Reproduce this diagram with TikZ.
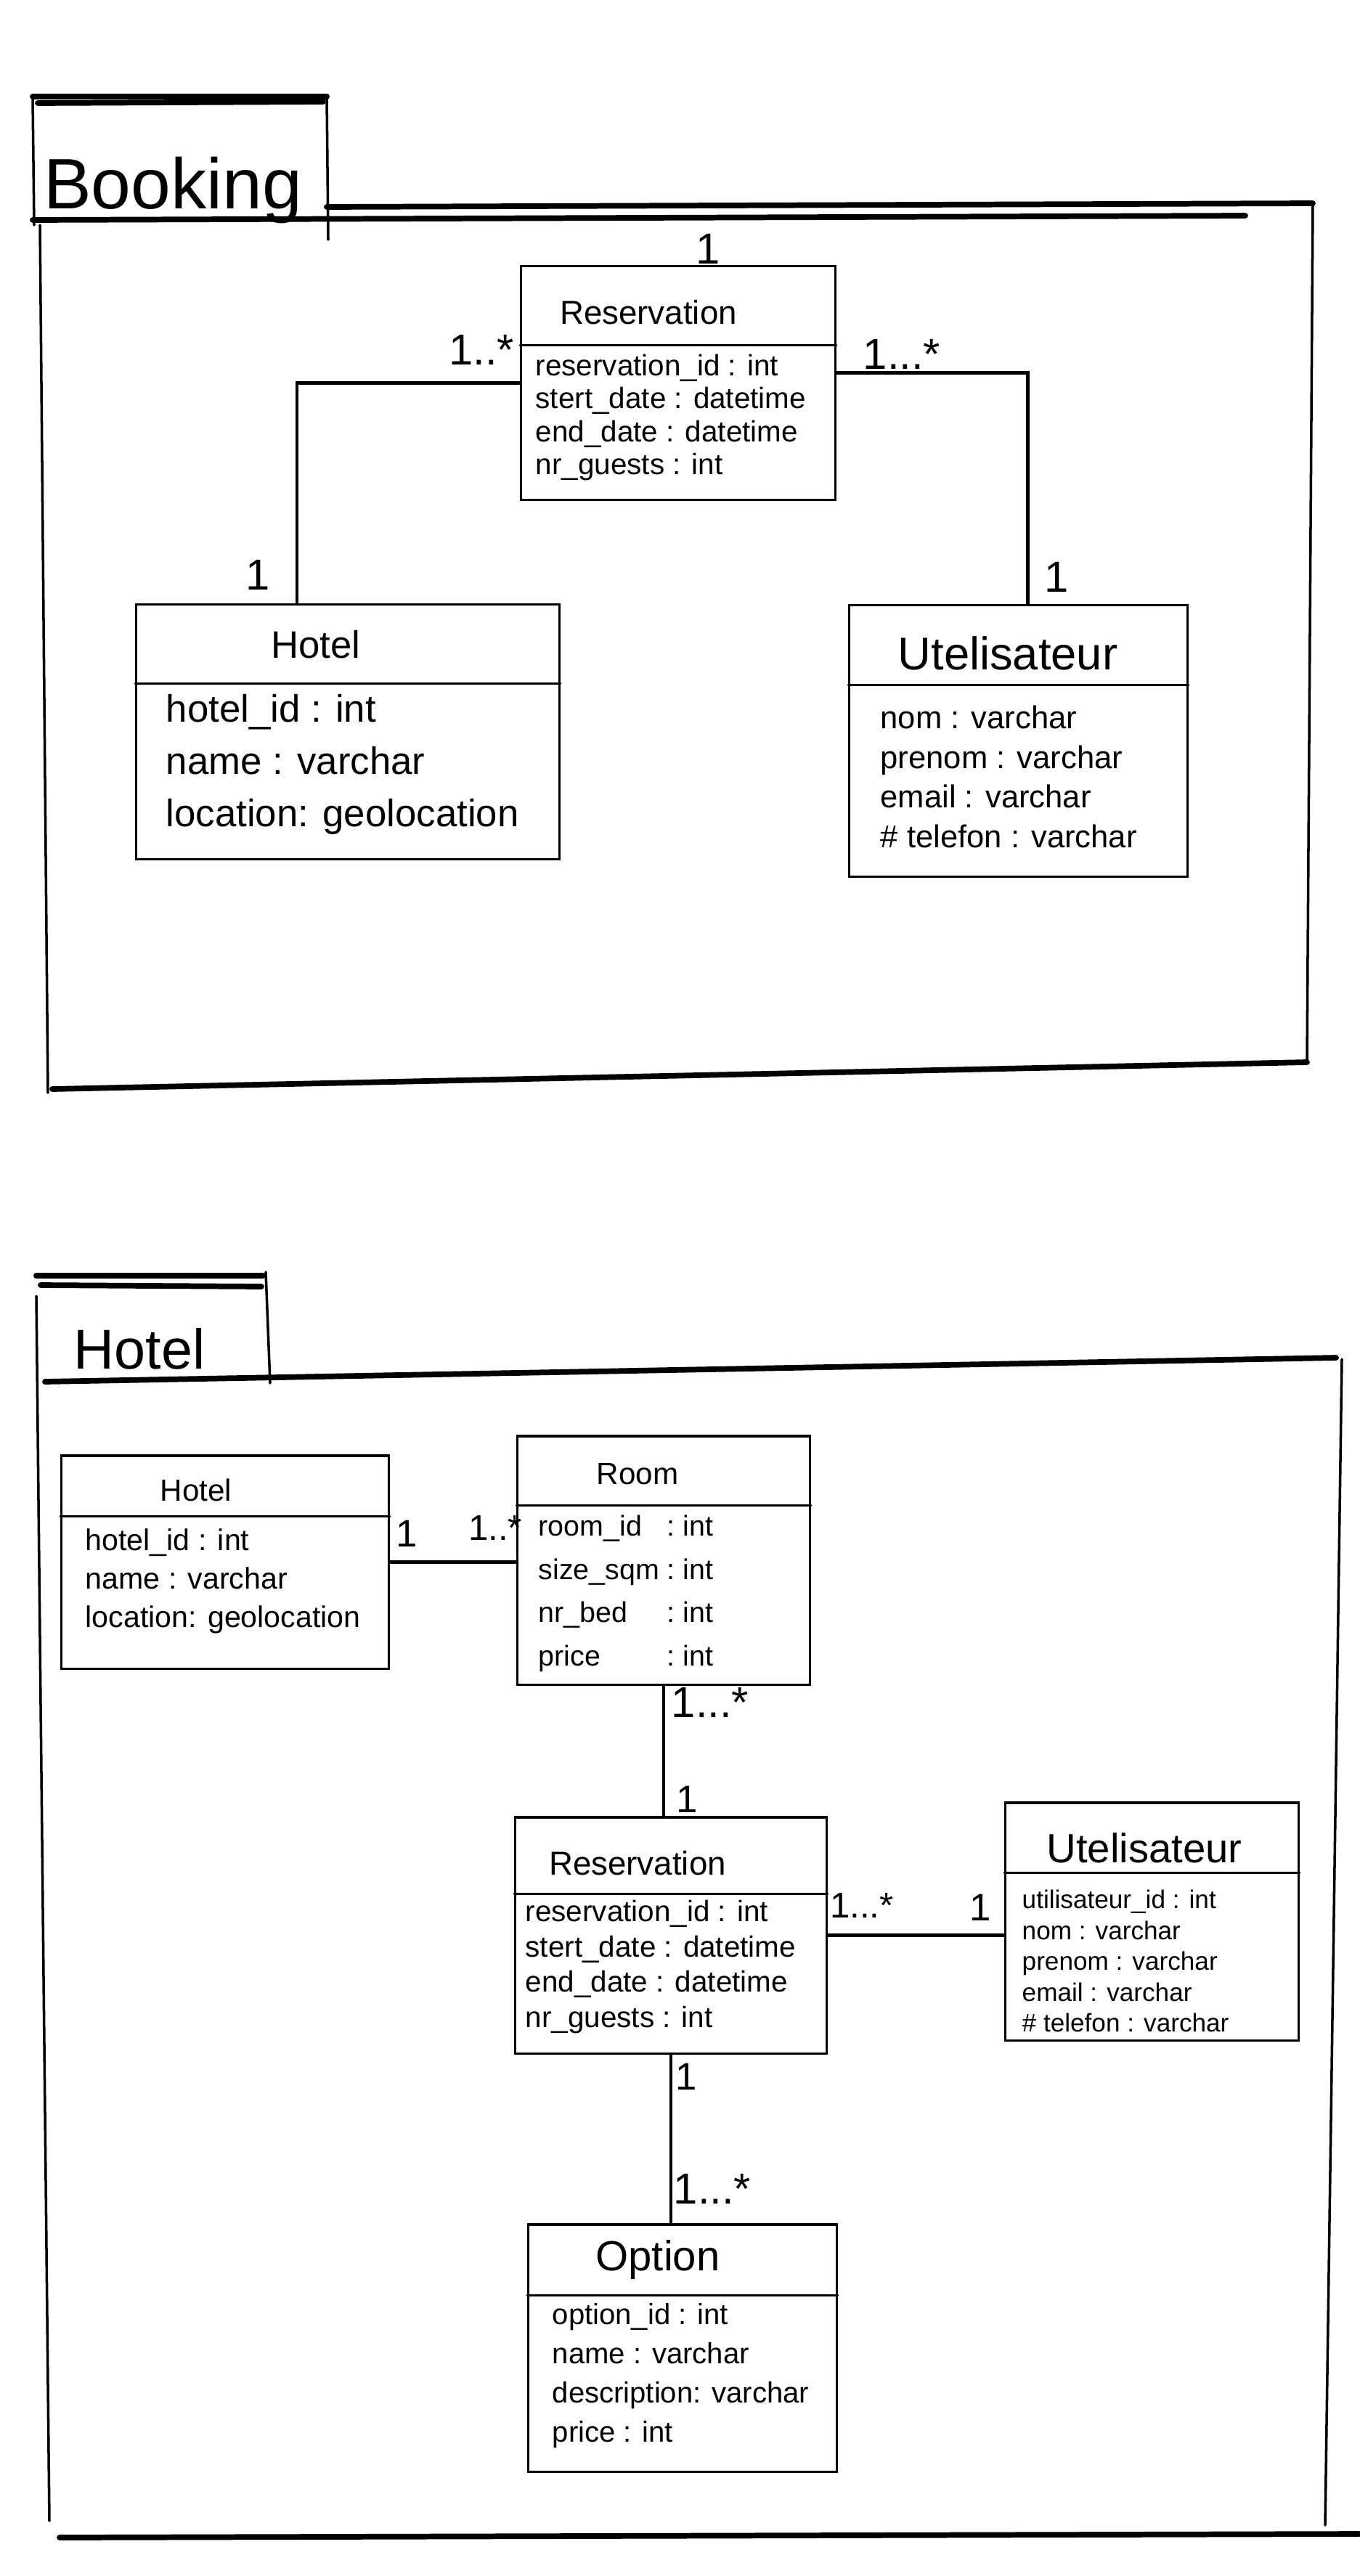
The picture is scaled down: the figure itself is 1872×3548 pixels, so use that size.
\documentclass[tikz,border=0pt]{standalone}
\usepackage{fontspec}
\setmainfont{Liberation Sans}
\usetikzlibrary{positioning}
\tikzset{
  cls/.style={rectangle, draw, line width=0.9pt, inner sep=0pt},
  title/.style={inner sep=0pt},
  attr/.style={inner sep=0pt, align=left, anchor=west},
  mult/.style={inner sep=0pt, font=\fontsize{17}{19}\selectfont},
  conn/.style={line width=1.3pt},
  frame/.style={line width=2.2pt, line cap=round},
  side/.style={line width=1pt, line cap=round}
}

\begin{document}
\begin{tikzpicture}[x=0.01cm, y=-0.01cm]
  \useasboundingbox (0,0) rectangle (1872,3548);

  % Booking package
  \draw[frame] (45,133) -- (450,133);
  \draw[frame] (52,142) -- (445,140);
  \draw[side] (45,135) -- (47,310);
  \draw[side] (450,133) -- (452,330);
  \draw[frame] (45,303) -- (1715,297);
  \draw[frame] (450,285) -- (1808,280);
  \draw[side] (1808,280) -- (1800,1463);
  \draw[frame] (1800,1463) -- (72,1500);
  \draw[side] (55,310) -- (66,1505);
  \node[anchor=base, inner sep=0pt, font=\fontsize{28}{30}\selectfont] (pkgA) at (238,287) {Booking};

  \node[cls, minimum width=4.32cm, minimum height=3.21cm] (resA) at (934,527.5) {};
  \draw[side] ([yshift=-1.1cm]resA.north west) -- ([yshift=-1.1cm]resA.north east);
  \node[title, font=\fontsize{13}{15}\selectfont] (resAt) at (893,430) {Reservation};
  \node[attr, font=\fontsize{11.5}{12.9}\selectfont] (resAa) at (737,575)
    {reservation\_id : int\\stert\_date : datetime\\end\_date : datetime\\nr\_guests : int};

  \node[cls, minimum width=5.82cm, minimum height=3.5cm] (hotelA) at (479,1008) {};
  \draw[side] ([yshift=-1.1cm]hotelA.north west) -- ([yshift=-1.1cm]hotelA.north east);
  \node[title, font=\fontsize{15}{17}\selectfont] (hotelAt) at (435,888) {Hotel};
  \node[attr, font=\fontsize{15}{20.5}\selectfont] (hotelAa) at (228,1053)
    {hotel\_id : int\\name : varchar\\location: geolocation};

  \node[cls, minimum width=4.65cm, minimum height=3.73cm] (uteA) at (1402.5,1020.5) {};
  \draw[side] ([yshift=-1.11cm]uteA.north west) -- ([yshift=-1.11cm]uteA.north east);
  \node[title, font=\fontsize{18}{20}\selectfont] (uteAt) at (1388,900) {Utelisateur};
  \node[attr, font=\fontsize{12.4}{15.5}\selectfont] (uteAa) at (1212,1070)
    {nom : varchar\\prenom : varchar\\email : varchar\\\# telefon : varchar};

  \draw[conn] (resA.west) -| ([xshift=-0.7cm]hotelA.north);
  \draw[conn] ([yshift=0.14cm]resA.east) -| ([xshift=0.13cm]uteA.north);

  \node[mult] (mA0) at (975,343) {1};
  \node[mult] (mA1) at (663,482) {1..*};
  \node[mult] (mA2) at (355,792) {1};
  \node[mult] (mA3) at (1242,488) {1...*};
  \node[mult] (mA4) at (1455,795) {1};

  % Hotel package
  \draw[frame] (50,1757) -- (362,1757);
  \draw[frame] (56,1770) -- (360,1772);
  \draw[side] (50,1785) -- (68,3472);
  \draw[side] (366,1752) -- (372,1905);
  \draw[frame] (62,1903) -- (1840,1870);
  \draw[side] (1848,1872) -- (1825,3478);
  \draw[frame] (82,3495) -- (1872,3490);
  \node[anchor=base, inner sep=0pt, font=\fontsize{22}{24}\selectfont] (pkgB) at (192,1885) {Hotel};

  \node[cls, minimum width=4.5cm, minimum height=2.93cm] (hotelB) at (310,2151.5) {};
  \draw[side] ([yshift=-0.85cm]hotelB.north west) -- ([yshift=-0.85cm]hotelB.north east);
  \node[title, font=\fontsize{12}{14}\selectfont] (hotelBt) at (270,2052) {Hotel};
  \node[attr, font=\fontsize{11.7}{15}\selectfont] (hotelBa) at (117,2178)
    {hotel\_id : int\\name : varchar\\location: geolocation};

  \node[cls, minimum width=4.02cm, minimum height=3.42cm] (room) at (914,2149) {};
  \draw[side] ([yshift=-0.97cm]room.north west) -- ([yshift=-0.97cm]room.north east);
  \node[title, font=\fontsize{12}{14}\selectfont] (roomt) at (878,2030) {Room};
  \node[attr, font=\fontsize{11.2}{17}\selectfont] (rooma) at (741,2193)
    {\begin{tabular}{@{}l@{\ :\ }l@{}}
      room\_id & int\\ size\_sqm & int\\ nr\_bed & int\\ price & int
    \end{tabular}};

  \node[cls, minimum width=4.28cm, minimum height=3.25cm] (resB) at (924,2665.5) {};
  \draw[side] ([yshift=-1.07cm]resB.north west) -- ([yshift=-1.07cm]resB.north east);
  \node[title, font=\fontsize{13}{15}\selectfont] (resBt) at (878,2566) {Reservation};
  \node[attr, font=\fontsize{11.5}{13.8}\selectfont] (resBa) at (723,2709)
    {reservation\_id : int\\stert\_date : datetime\\end\_date : datetime\\nr\_guests : int};

  \node[cls, minimum width=4.03cm, minimum height=3.27cm] (uteB) at (1586.5,2646.5) {};
  \draw[side] ([yshift=-0.98cm]uteB.north west) -- ([yshift=-0.98cm]uteB.north east);
  \node[title, font=\fontsize{16}{18}\selectfont] (uteBt) at (1576,2545) {Utelisateur};
  \node[attr, font=\fontsize{10}{12.1}\selectfont] (uteBa) at (1407,2701)
    {utilisateur\_id : int\\nom : varchar\\prenom : varchar\\email : varchar\\\# telefon : varchar};

  \node[cls, minimum width=4.24cm, minimum height=3.4cm] (option) at (940,3234) {};
  \draw[side] ([yshift=-0.99cm]option.north west) -- ([yshift=-0.99cm]option.north east);
  \node[title, font=\fontsize{16.5}{18}\selectfont] (optiont) at (906,3112) {Option};
  \node[attr, font=\fontsize{11.4}{15.4}\selectfont] (optiona) at (760,3272)
    {option\_id : int\\name : varchar\\description: varchar\\price : int};

  \draw[conn] (hotelB.east) -- (hotelB.east -| room.west);
  \draw[conn] (room.south) -- (room.south |- resB.north);
  \draw[conn] (resB.east) -- (resB.east -| uteB.west);
  \draw[conn] (resB.south) -- (resB.south |- option.north);

  \node[mult, font=\fontsize{15}{17}\selectfont] (mB1) at (560,2112) {1};
  \node[mult, font=\fontsize{14}{16}\selectfont] (mB2) at (682,2105) {1..*};
  \node[mult] (mB3) at (978,2345) {1...*};
  \node[mult, font=\fontsize{15}{17}\selectfont] (mB4) at (946,2478) {1};
  \node[mult, font=\fontsize{14}{16}\selectfont] (mB5) at (1187,2625) {1...*};
  \node[mult, font=\fontsize{15}{17}\selectfont] (mB6) at (1350,2627) {1};
  \node[mult, font=\fontsize{15}{17}\selectfont] (mB7) at (945,2860) {1};
  \node[mult] (mB8) at (981,3015) {1...*};
\end{tikzpicture}
\end{document}
